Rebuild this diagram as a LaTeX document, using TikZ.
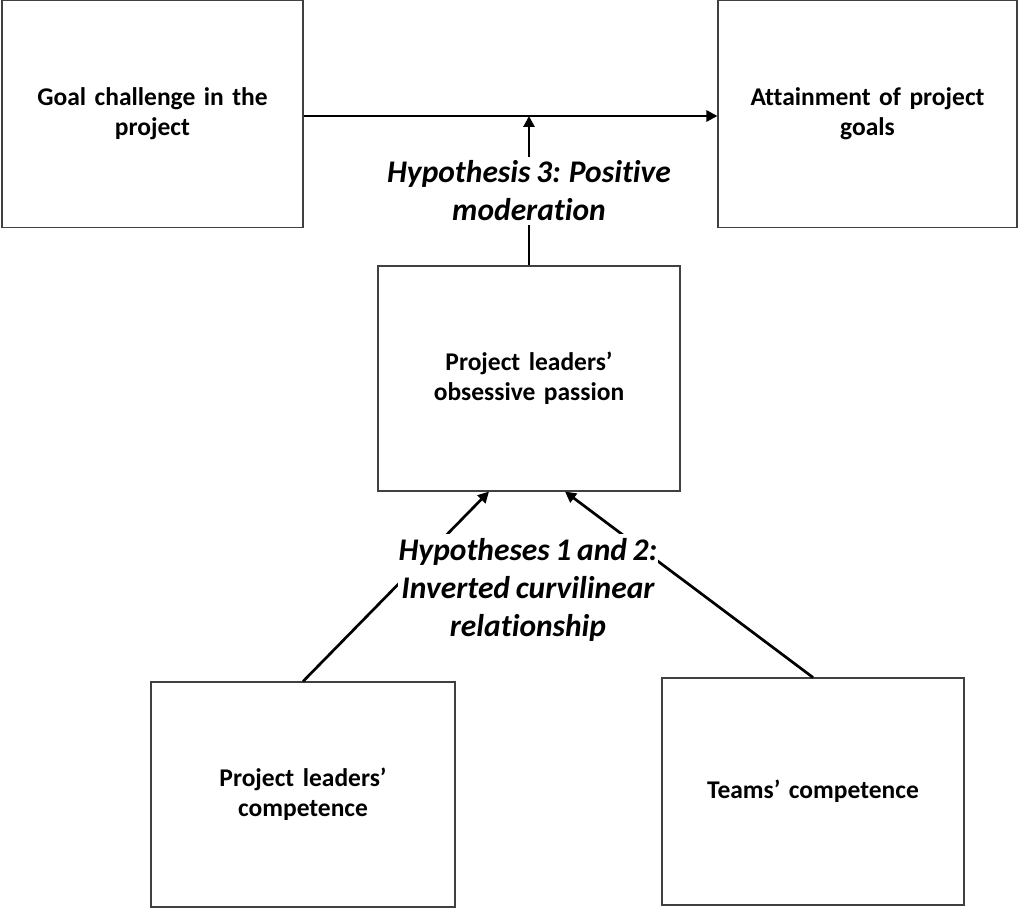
\documentclass[tikz,border=0pt]{standalone}
\usepackage{fontspec}
\setmainfont{Carlito}[Ligatures=NoCommon, WordSpace=0.8]
\usetikzlibrary{arrows.meta,positioning,calc}
\tikzset{
  varbox/.style={rectangle, draw=black!75, line width=1.1pt, fill=white, align=center, font=\fontsize{25.5}{30}\selectfont\bfseries, text width=280pt},
  hyplabel/.style={fill=white, align=center, inner xsep=1pt, inner ysep=4pt, font=\fontsize{31.5}{38}\selectfont\bfseries\itshape},
  arrow/.style={-{Triangle[length=11pt,width=11pt]}, line width=2.7pt}
}
\begin{document}
\begin{tikzpicture}[x=1pt,y=-1pt]
  \useasboundingbox (0,0) rectangle (1018,909);
  \node[varbox, minimum width=301pt, minimum height=227pt] (goal) at (152.5,114) {Goal challenge in the\\project};
  \node[varbox, minimum width=299pt, minimum height=227pt] (attain) at (867.5,114) {Attainment of project\\goals};
  \node[varbox, minimum width=302pt, minimum height=225pt] (passion) at (529,378.5) {Project leaders’\\obsessive passion};
  \node[varbox, minimum width=304pt, minimum height=225pt] (leadcomp) at (303,794.5) {Project leaders’\\competence};
  \node[varbox, minimum width=302pt, minimum height=227pt] (teamcomp) at (813,791.5) {Teams’ competence};
  \coordinate (goalarrow) at ($(goal.east)+(0,2)$);
  \coordinate (attainarrow) at ($(attain.west)+(0,2)$);
  \coordinate (modpoint) at (passion.north |- goalarrow);
  \draw[arrow] (goalarrow) -- (attainarrow);
  \draw[arrow] (passion.north) -- node[hyplabel] (hypthree) {Hypothesis 3: Positive\\moderation} (modpoint);
  \draw[arrow] (leadcomp.north) -- ([xshift=-40pt]passion.south);
  \draw[arrow] (teamcomp.north) -- ([xshift=36pt]passion.south);
  \node[hyplabel] (hyponetwo) at (528,590) {Hypotheses 1 and 2:\\Inverted curvilinear\\relationship};
\end{tikzpicture}
\end{document}
